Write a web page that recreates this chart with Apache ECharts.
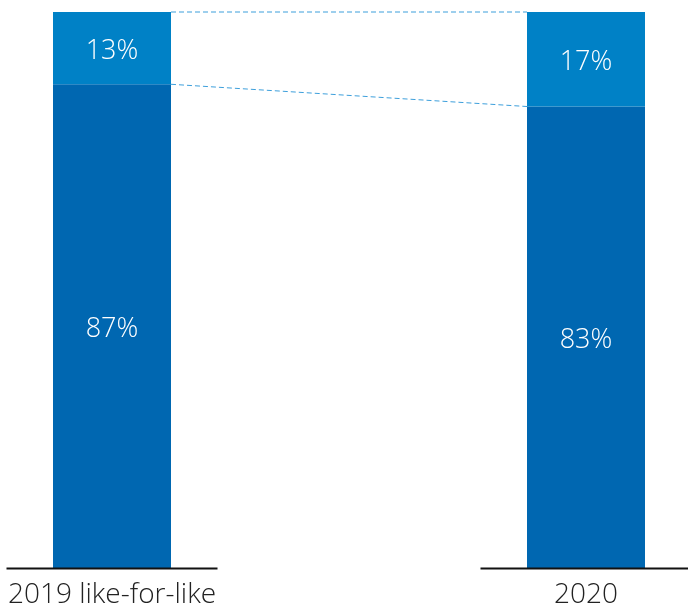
<!DOCTYPE html>
<html>
<head>
<meta charset="utf-8">
<script src="https://cdn.jsdelivr.net/npm/echarts@6/dist/echarts.min.js"></script>
<style>
  html, body { margin: 0; padding: 0; background: #ffffff; }
  #chart { width: 688px; height: 610px; }
</style>
</head>
<body>
<div id="chart"></div>
<script>
// Share split per year (percent of total)
const categories = ['2019 like-for-like', '2020'];
const baseShare = [87, 83];   // lower, darker segment
const topShare = [13, 17];    // upper, lighter segment

const BAR_WIDTH = 118;
const BASELINE_HALF = 105.5;
const DARK = '#0067b1';
const LIGHT = '#0081c6';
const LABEL_FONT = "'Open Sans', 'Noto Sans', sans-serif";

const chart = echarts.init(document.getElementById('chart'), null, { renderer: 'canvas' });

const segLabel = {
  show: true,
  position: 'inside',
  offset: [0, 3],
  color: '#ffffff',
  fontSize: 27,
  fontWeight: 300,
  fontFamily: LABEL_FONT,
  formatter: p => p.value + '%'
};

chart.setOption({
  animation: false,
  grid: { left: 112, right: 102, top: 12, bottom: 42, containLabel: false },
  xAxis: {
    type: 'category',
    data: categories,
    boundaryGap: false,
    axisLine: { show: false },
    axisTick: { show: false },
    axisLabel: {
      show: true,
      margin: 13,
      fontSize: 28,
      color: '#222222',
      fontFamily: LABEL_FONT,
      fontWeight: 300
    }
  },
  yAxis: {
    type: 'value',
    min: 0,
    max: 100,
    show: false,
    splitLine: { show: false }
  },
  series: [
    {
      name: 'base',
      type: 'bar',
      stack: 'share',
      barWidth: BAR_WIDTH,
      data: baseShare,
      itemStyle: { color: DARK },
      label: segLabel
    },
    {
      name: 'top',
      type: 'bar',
      stack: 'share',
      barWidth: BAR_WIDTH,
      data: topShare,
      itemStyle: { color: LIGHT },
      label: segLabel
    },
    {
      // dashed connectors between neighbouring bars
      name: 'connectors',
      type: 'custom',
      silent: true,
      z: 1,
      data: categories.slice(0, -1).map((c, i) => [i, 0]),
      renderItem: (params, api) => {
        const i = params.dataIndex;
        const levels = [
          [baseShare[i] + topShare[i], baseShare[i + 1] + topShare[i + 1]],
          [baseShare[i], baseShare[i + 1]]
        ];
        const style = { stroke: '#3d9fdb', lineWidth: 1, lineDash: [5, 3] };
        return {
          type: 'group',
          children: levels.map(([a, b]) => {
            const p1 = api.coord([i, a]);
            const p2 = api.coord([i + 1, b]);
            return {
              type: 'line',
              shape: { x1: p1[0] + BAR_WIDTH / 2, y1: p1[1], x2: p2[0] - BAR_WIDTH / 2, y2: p2[1] },
              style: style
            };
          })
        };
      }
    },
    {
      // short baseline under each bar
      name: 'baseline',
      type: 'custom',
      silent: true,
      z: 5,
      clip: false,
      data: categories.map((c, i) => [i, 0]),
      renderItem: (params, api) => {
        const p = api.coord([params.dataIndex, 0]);
        return {
          type: 'line',
          shape: { x1: p[0] - BASELINE_HALF, y1: p[1] + 0.5, x2: p[0] + BASELINE_HALF, y2: p[1] + 0.5 },
          style: { stroke: '#111111', lineWidth: 2 }
        };
      }
    }
  ]
});
</script>
</body>
</html>
